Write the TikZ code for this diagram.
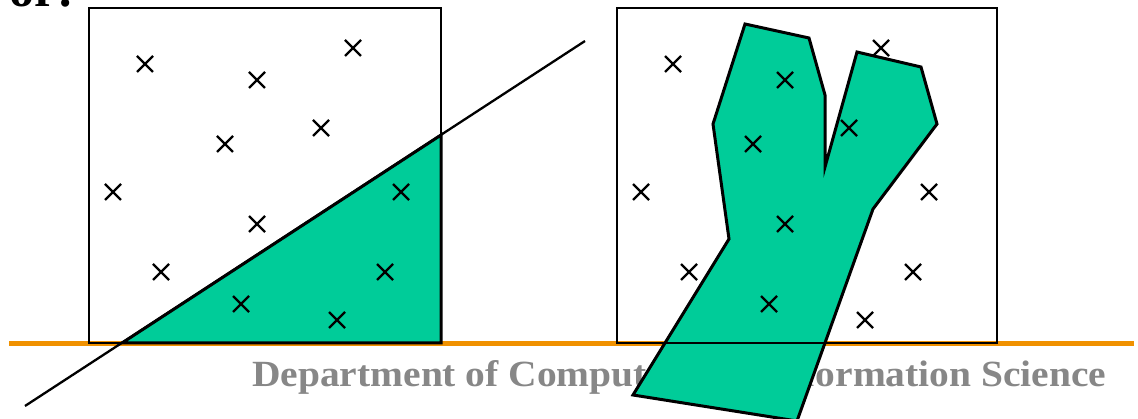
\documentclass[tikz,border=0pt]{standalone}
\usepackage{fontspec}
\setmainfont{Liberation Serif}
\usepackage{graphicx}
\definecolor{fillgreen}{RGB}{0,204,153}
\definecolor{barorange}{RGB}{240,145,0}
\definecolor{textgray}{RGB}{135,135,135}
\tikzset{
  frame/.style={draw=black, line width=2.4pt},
  region/.style={draw=black, fill=fillgreen, line width=3pt, line join=miter},
  cut/.style={draw=black, line width=2.3pt},
  xmark/.style={draw=black, line width=2.2pt},
}
\begin{document}
\begin{tikzpicture}[x=1pt,y=-1pt]
\useasboundingbox (0,0) rectangle (1138,419);
\clip (0,0) rectangle (1138,419);
% heading fragment
\node[anchor=base east, inner sep=0pt, font=\fontsize{50}{50}\selectfont\bfseries] (head) at (74,7) {or:};
% footer
\node[anchor=base west, inner sep=0pt, text=textgray] (footer) at (252,387)
  {\resizebox{854pt}{26pt}{\bfseries Department of Computer and Information Science}};
\draw[barorange, line width=4.5pt] (9,343.5) -- (1134,343.5);
% left panel
\coordinate (lb1) at (122,343);
\coordinate (lb2) at (441,135);
\coordinate (lb3) at (441,343);
\fill[fillgreen] (lb1) -- (lb2) -- (lb3) -- cycle;
\draw[frame] (89,8) rectangle (441,343);
\coordinate (cutA) at (25,406);
\coordinate (cutB) at (585,41);
\draw[cut] (cutA) -- (cutB);
\draw[region, fill=none] (lb1) -- (lb2) -- (lb3) -- cycle;
% right panel
\draw[region] (745,24) -- (809,38) -- (825,95) -- (825,167) -- (857,52) -- (921,67)
  -- (937,124) -- (873,209) -- (797,421) -- (633,395) -- (729,239) -- (713,124) -- cycle;
\draw[frame] (617,8) rectangle (997,343);
% crosses
\foreach \dx in {0,528}{
  \foreach \px/\py in {145/64,257/80,353/48,225/144,321/128,113/192,401/192,257/224,161/272,385/272,241/304,337/320}{
    \draw[xmark] (\px+\dx-8,\py-8) -- (\px+\dx+8,\py+8);
    \draw[xmark] (\px+\dx-8,\py+8) -- (\px+\dx+8,\py-8);
  }
}
\end{tikzpicture}
\end{document}
